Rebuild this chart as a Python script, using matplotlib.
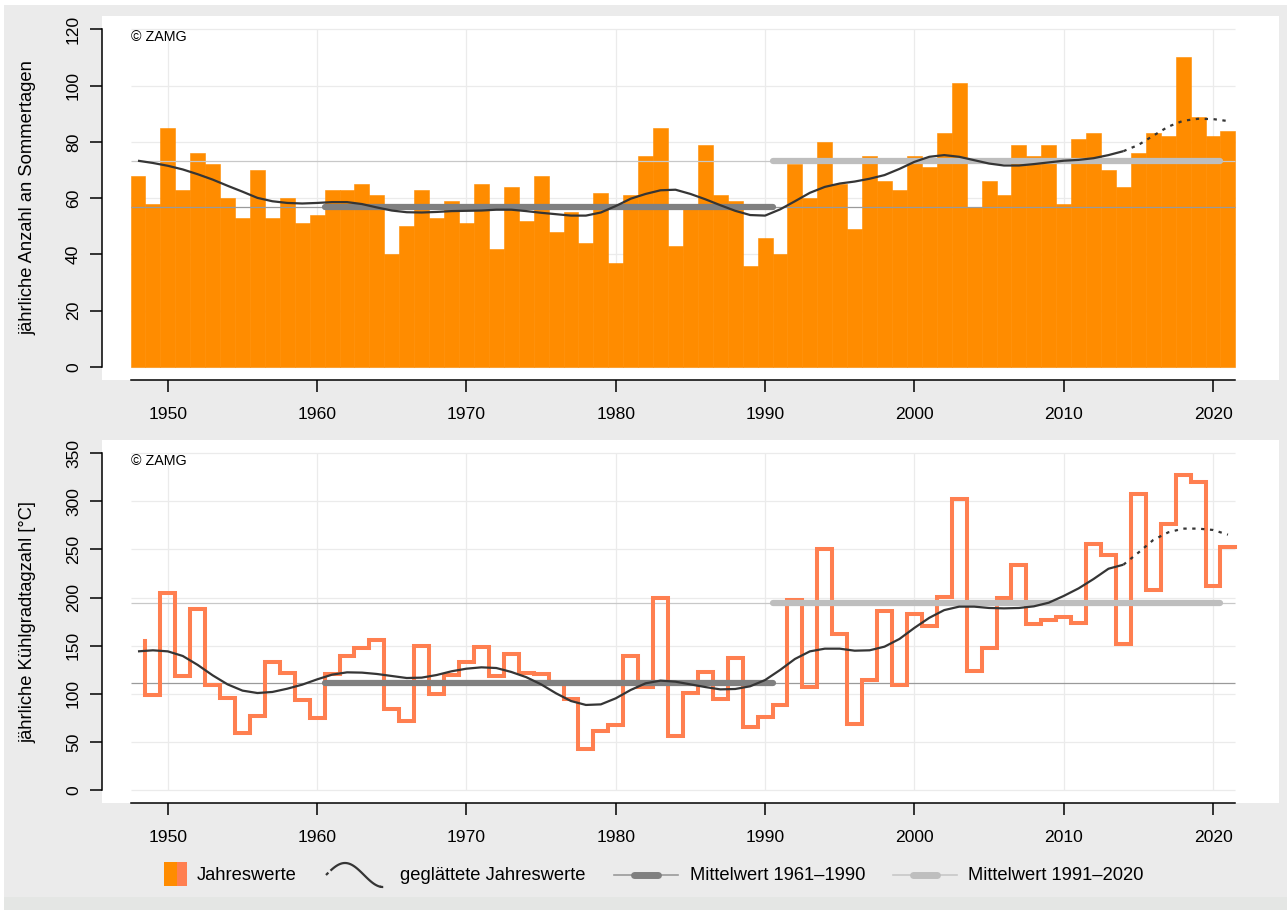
import numpy as np
import matplotlib
matplotlib.use("Agg")
import matplotlib.pyplot as plt
from matplotlib.patches import Rectangle

plt.rcParams['font.family'] = ['Liberation Sans', 'DejaVu Sans']

# ---------------- data ----------------
years = np.arange(1948, 2022)

sommertage = [68, 58, 85, 63, 76, 72, 60, 53, 70, 53,
              60, 51, 54, 63, 63, 65, 61, 40, 50, 63,
              53, 59, 51, 65, 42, 64, 52, 68, 48, 55,
              44, 62, 37, 61, 75, 85, 43, 57, 79, 61,
              59, 36, 46, 40, 72, 60, 80, 65, 49, 75,
              66, 63, 75, 71, 83, 101, 57, 66, 61, 79,
              75, 79, 58, 81, 83, 70, 64, 76, 83, 82,
              110, 89, 82, 84]

sommertage_smooth = [73.3, 72.5, 71.5, 70.2, 68.5, 66.6, 64.4, 62.3, 60.1, 58.9,
                     58.3, 58.1, 58.3, 58.6, 58.6, 57.9, 56.7, 55.6, 55.0, 54.9,
                     55.1, 55.4, 55.5, 55.6, 55.9, 55.9, 55.4, 54.8, 54.3, 53.8,
                     53.8, 54.9, 57.2, 59.8, 61.5, 62.8, 63.0, 61.5, 59.6, 57.5,
                     55.5, 54.0, 53.8, 56.0, 58.9, 61.9, 64.0, 65.2, 65.9, 66.9,
                     68.2, 70.4, 72.9, 74.7, 75.3, 74.7, 73.5, 72.3, 71.6, 71.6,
                     72.1, 72.7, 73.3, 73.6, 74.2, 75.3, 76.7, 78.9, 82.2, 85.4,
                     87.5, 88.2, 88.1, 87.4]

kuehlgradtage = [155, 99, 205, 119, 188, 109, 96, 59, 77, 133,
                 122, 94, 75, 121, 139, 148, 156, 84, 72, 150,
                 100, 120, 133, 149, 118, 141, 122, 121, 111, 95,
                 43, 61, 68, 139, 107, 200, 56, 101, 123, 95,
                 137, 65, 76, 88, 198, 107, 250, 162, 69, 114,
                 186, 109, 183, 170, 201, 302, 124, 148, 200, 234,
                 173, 177, 180, 174, 256, 244, 152, 308, 208, 276,
                 327, 320, 212, 253]

kuehlgradtage_smooth = [144.1, 145.2, 144.1, 139.3, 130.0, 119.2, 109.8, 103.3, 100.8, 101.9,
                        105.3, 109.5, 115.0, 119.9, 122.3, 122.0, 120.6, 118.5, 116.4, 116.8,
                        119.5, 123.4, 126.1, 127.5, 126.8, 122.7, 117.3, 109.8, 100.5, 92.5,
                        88.4, 89.0, 95.3, 104.0, 110.9, 113.7, 112.6, 109.8, 107.0, 104.6,
                        105.0, 107.8, 114.3, 124.7, 136.2, 144.1, 146.9, 146.9, 144.8, 145.2,
                        149.0, 157.0, 168.5, 179.0, 187.0, 190.6, 190.6, 189.2, 188.8, 189.2,
                        190.9, 194.7, 201.7, 209.6, 219.3, 230.0, 234.2, 246.7, 259.9, 267.8,
                        271.7, 271.7, 270.3, 265.4]

mean_1961_1990 = [57.0, 111.6]
mean_1991_2020 = [73.1, 194.7]
smooth_end_solid = 2014

x_ticks = [1950, 1960, 1970, 1980, 1990, 2000, 2010, 2020]
y_ticks_top = [0, 20, 40, 60, 80, 100, 120]
y_ticks_bottom = [0, 50, 100, 150, 200, 250, 300, 350]

ylabel_top = "jährliche Anzahl an Sommertagen"
ylabel_bottom = "jährliche Kühlgradtagzahl [°C]"
copyright_text = "© ZAMG"
legend_labels = ["Jahreswerte", "geglättete Jahreswerte",
                 "Mittelwert 1961–1990", "Mittelwert 1991–2020"]

# ---------------- style ----------------
W, H = 1287, 910
BAR_C = '#FF8C00'
STEP_C = '#FF7F50'
SMOOTH_C = '#353535'
MEAN1_C = '#808080'
MEAN2_C = '#BEBEBE'
THIN1_C = '#9A9A9A'
THIN2_C = '#C8C8C8'
GRID_C = '#EBEBEB'
BG_C = '#EBEBEB'
FS = 12.6
FS_LAB = 13.2
DOTS = (0, (1.5, 2.5))

fig = plt.figure(figsize=(W / 100, H / 100), dpi=100)
fig.patch.set_facecolor('white')

bg = fig.add_axes([0, 0, 1, 1], zorder=0)
bg.set_xlim(0, W)
bg.set_ylim(H, 0)
bg.axis('off')
bg.add_patch(Rectangle((4, 5), W - 4, 892, color=BG_C, lw=0))
bg.add_patch(Rectangle((4, 897), W - 4, 13, color='#E4E6E4', lw=0))

x0, x1 = 1945.59, 2024.42
xl, xr = years[0] - 0.5, years[-1] + 0.5


def setup(ax, yticks, ylim):
    ax.set_facecolor('white')
    ax.set_xlim(x0, x1)
    ax.set_ylim(*ylim)
    for s in ['top', 'right']:
        ax.spines[s].set_visible(False)
    ax.spines['left'].set_bounds(yticks[0], yticks[-1])
    ax.spines['bottom'].set_bounds(xl, xr)
    for s in ['left', 'bottom']:
        ax.spines[s].set_linewidth(1.1)
        ax.spines[s].set_color('black')
    ax.set_xticks(x_ticks)
    ax.set_yticks(yticks)
    ax.tick_params(axis='both', direction='out', length=8.6, width=1.1,
                   labelsize=FS, colors='black')
    ax.tick_params(axis='x', pad=10.8)
    ax.tick_params(axis='y', pad=6.5, labelrotation=90)
    for lab in ax.get_yticklabels():
        lab.set_va('center')
    ax.vlines(x_ticks, yticks[0], yticks[-1], color=GRID_C, lw=0.9, zorder=0.5)
    ax.hlines(yticks, xl, xr, color=GRID_C, lw=0.9, zorder=0.5)
    ax.text(xl, yticks[-1] - (ylim[1] - ylim[0]) * 0.002, copyright_text,
            fontsize=10.3, ha='left', va='top', zorder=6)


def means(ax, i, z_thin, z_thick):
    ax.hlines([mean_1961_1990[i]], xl, xr, color=THIN1_C, lw=0.9, zorder=z_thin)
    ax.hlines([mean_1991_2020[i]], xl, xr, color=THIN2_C, lw=0.9, zorder=z_thin)
    ax.plot([1960.5, 1990.5], [mean_1961_1990[i]] * 2, color=MEAN1_C, lw=4.5,
            solid_capstyle='round', zorder=z_thick)
    ax.plot([1990.5, 2020.5], [mean_1991_2020[i]] * 2, color=MEAN2_C, lw=4.5,
            solid_capstyle='round', zorder=z_thick)


def smooth(ax, values):
    v = np.asarray(values)
    m1 = years <= smooth_end_solid
    m2 = years >= smooth_end_solid
    ax.plot(years[m1], v[m1], color=SMOOTH_C, lw=1.6, zorder=5,
            solid_capstyle='butt')
    ax.plot(years[m2], v[m2], color=SMOOTH_C, lw=1.6, zorder=5,
            linestyle=DOTS)


# ---------- top panel ----------
ax1 = fig.add_axes([102 / W, 1 - 380 / H, 1177 / W, 364 / H], zorder=1)
setup(ax1, y_ticks_top, (-4.62, 124.73))
ax1.bar(years, sommertage, width=1.0, color=BAR_C, edgecolor=BAR_C,
        linewidth=0.4, zorder=1)
means(ax1, 0, 2, 3)
smooth(ax1, sommertage_smooth)

# ---------- bottom panel ----------
ax2 = fig.add_axes([102 / W, 1 - 803 / H, 1177 / W, 363 / H], zorder=1)
setup(ax2, y_ticks_bottom, (-13.51, 363.8))
means(ax2, 1, 1, 3)
ax2.plot(years + 0.5, kuehlgradtage, drawstyle='steps-pre', color=STEP_C,
         lw=2.9, zorder=2, solid_joinstyle='miter')
smooth(ax2, kuehlgradtage_smooth)

# y labels
fig.text(28 / W, 1 - 198 / H, ylabel_top, rotation=90, ha='center',
         va='center', fontsize=FS_LAB)
fig.text(28 / W, 1 - 622 / H, ylabel_bottom, rotation=90, ha='center',
         va='center', fontsize=FS_LAB)

# ---------- legend ----------
ly = 875
bg.add_patch(Rectangle((164, 862), 12.5, 24, color=BAR_C, lw=0))
bg.add_patch(Rectangle((176.5, 862), 10.5, 24, color=STEP_C, lw=0))
bg.text(197, ly, legend_labels[0], fontsize=FS_LAB, ha='left', va='center')

t = np.linspace(326, 386, 80)
yy = ly - 12 * np.sin(np.pi * (t - 326) / 38.0)
solid = (t >= 331) & (t <= 380)
bg.plot(t[solid], yy[solid], color=SMOOTH_C, lw=1.6)
bg.plot(t[t <= 331.5], yy[t <= 331.5], color=SMOOTH_C, lw=1.6, linestyle=DOTS)
bg.plot(t[t >= 379.5], yy[t >= 379.5], color=SMOOTH_C, lw=1.6, linestyle=DOTS)
bg.text(400, ly, legend_labels[1], fontsize=FS_LAB, ha='left', va='center')

bg.plot([614, 678], [ly, ly], color=THIN1_C, lw=1.2)
bg.plot([634, 658], [ly, ly], color=MEAN1_C, lw=5, solid_capstyle='round')
bg.text(690, ly, legend_labels[2], fontsize=FS_LAB, ha='left', va='center')

bg.plot([893, 957], [ly, ly], color=THIN2_C, lw=1.2)
bg.plot([913, 937], [ly, ly], color=MEAN2_C, lw=5, solid_capstyle='round')
bg.text(968, ly, legend_labels[3], fontsize=FS_LAB, ha='left', va='center')

fig.savefig('out.png', dpi=100, facecolor=fig.get_facecolor())
